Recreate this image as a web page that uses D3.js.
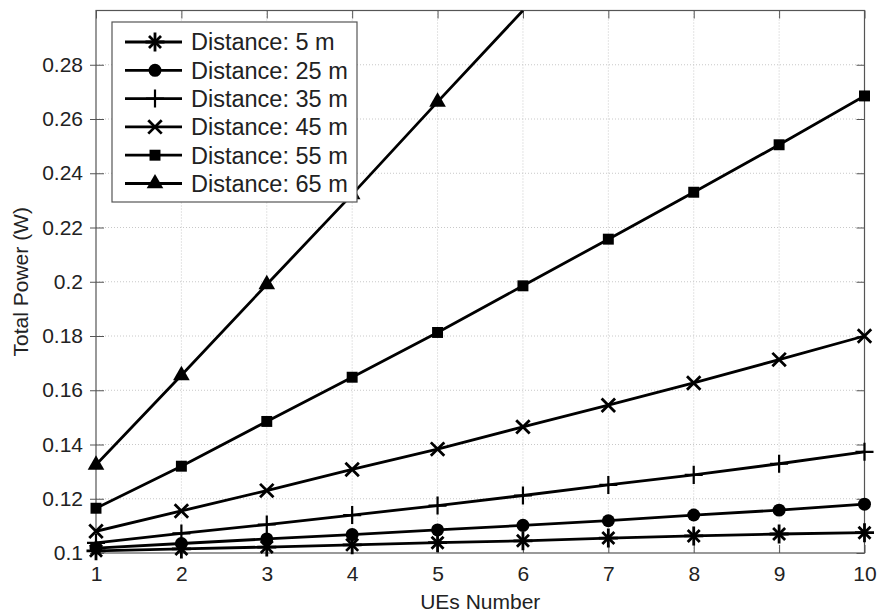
<!DOCTYPE html>
<html>
<head>
<meta charset="utf-8">
<script src="https://cdn.jsdelivr.net/npm/d3@7"></script>
<style>
    body { margin: 0; background: #fff; }
    svg { display: block; font-family: "Liberation Sans", Arial, sans-serif; }
</style>
</head>
<body>
<div id="chart"></div>
<script>
// values
const ues = [1, 2, 3, 4, 5, 6, 7, 8, 9, 10];
const seriesNames = ["Distance: 5 m", "Distance: 25 m", "Distance: 35 m",
    "Distance: 45 m", "Distance: 55 m", "Distance: 65 m"];
const markers = ["star", "circle", "plus", "x", "square", "triangle"];
const power5 = [0.1008, 0.1015, 0.1022, 0.1030, 0.1038, 0.1045, 0.1055, 0.1063, 0.1070, 0.1075];
const power25 = [0.1018, 0.1035, 0.1052, 0.1068, 0.1085, 0.1102, 0.1119, 0.1140, 0.1158, 0.1180];
const power35 = [0.1037, 0.1072, 0.1105, 0.1140, 0.1175, 0.1212, 0.1251, 0.1288, 0.1329, 0.1373];
const power45 = [0.1080, 0.1155, 0.1230, 0.1308, 0.1383, 0.1465, 0.1545, 0.1627, 0.1713, 0.1800];
const power55 = [0.1165, 0.1320, 0.1485, 0.1648, 0.1813, 0.1985, 0.2157, 0.2330, 0.2505, 0.2685];
const power65 = [0.1325, 0.1655, 0.1990, 0.2322, 0.2663, 0.3000];
const allSeries = [power5, power25, power35, power45, power55, power65];
const xTicks = [1, 2, 3, 4, 5, 6, 7, 8, 9, 10];
const yTicks = [0.1, 0.12, 0.14, 0.16, 0.18, 0.2, 0.22, 0.24, 0.26, 0.28];

const width = 878;
const height = 615;
const margin = {top: 10.5, right: 13.5, bottom: 62, left: 96};
const innerW = width - margin.left - margin.right;
const innerH = height - margin.top - margin.bottom;

const x = d3.scaleLinear().domain([1, 10]).range([0, innerW]);
const y = d3.scaleLinear().domain([0.1, 0.3]).range([innerH, 0]);

const svg = d3.select("#chart").append("svg")
    .attr("width", width)
    .attr("height", height);

svg.append("defs").append("clipPath").attr("id", "clip")
    .append("rect").attr("width", innerW).attr("height", innerH);

const g = svg.append("g")
    .attr("transform", "translate(" + margin.left + "," + margin.top + ")");

// dotted grid
g.append("g").selectAll("line").data(xTicks.slice(1, -1)).enter().append("line")
    .attr("x1", d => x(d)).attr("x2", d => x(d))
    .attr("y1", 0).attr("y2", innerH)
    .style("stroke", "#c8c8c8").style("stroke-width", 1).style("stroke-dasharray", "1,2");
g.append("g").selectAll("line").data(yTicks.slice(1)).enter().append("line")
    .attr("x1", 0).attr("x2", innerW)
    .attr("y1", d => y(d)).attr("y2", d => y(d))
    .style("stroke", "#c8c8c8").style("stroke-width", 1).style("stroke-dasharray", "1,2");

// axes with inward ticks on all four sides
const tickLen = 8;
const axisColor = "#555";
const styleAxis = function (sel) {
    sel.select(".domain").remove();
    sel.selectAll(".tick line").style("stroke", axisColor);
    sel.selectAll(".tick text").style("fill", "#222").style("font-size", "21px")
        .style("font-family", "\"Liberation Sans\", Arial, sans-serif");
};

g.append("g").attr("transform", "translate(0," + innerH + ")")
    .call(d3.axisBottom(x).tickValues(xTicks).tickFormat(d3.format("d")).tickSizeInner(-tickLen).tickPadding(13))
    .call(styleAxis);
g.append("g")
    .call(d3.axisTop(x).tickValues(xTicks).tickFormat("").tickSizeInner(-tickLen))
    .call(styleAxis);
g.append("g")
    .call(d3.axisLeft(y).tickValues(yTicks).tickFormat(d => String(+d.toFixed(2))).tickSizeInner(-tickLen).tickPadding(13))
    .call(styleAxis)
    .selectAll(".tick line").attr("x2", -6).attr("x1", tickLen);
g.append("g").attr("transform", "translate(" + innerW + ",0)")
    .call(d3.axisRight(y).tickValues(yTicks).tickFormat("").tickSizeInner(-tickLen))
    .call(styleAxis);

g.append("rect")
    .attr("width", innerW).attr("height", innerH)
    .style("fill", "none").style("stroke", axisColor).style("stroke-width", 1.2);

// marker drawing
function drawMarker(sel, type, size) {
    const s = size;
    if (type === "star") {
        sel.append("path").attr("d", d3.symbol(d3.symbolPlus, s * 10)())
            .style("fill", "none").style("stroke", "#000").style("stroke-width", 2.8);
        sel.append("path").attr("d", d3.symbol(d3.symbolTimes, s * 8)())
            .style("fill", "none").style("stroke", "#000").style("stroke-width", 2.8);
    } else if (type === "circle") {
        sel.append("path").attr("d", d3.symbol(d3.symbolCircle, s * 11)()).style("fill", "#000");
    } else if (type === "plus") {
        sel.append("path").attr("d", d3.symbol(d3.symbolPlus, s * 9)())
            .style("fill", "none").style("stroke", "#000").style("stroke-width", 2.2);
    } else if (type === "x") {
        sel.append("path").attr("d", d3.symbol(d3.symbolTimes, s * 10)())
            .style("fill", "none").style("stroke", "#000").style("stroke-width", 2.8);
    } else if (type === "square") {
        sel.append("path").attr("d", d3.symbol(d3.symbolSquare, s * 10)()).style("fill", "#000");
    } else if (type === "triangle") {
        sel.append("path").attr("d", d3.symbol(d3.symbolTriangle, s * 10)()).style("fill", "#000");
    }
}

const line = d3.line()
    .x((d, i) => x(ues[i]))
    .y(d => y(d));

const plot = g.append("g").attr("clip-path", "url(#clip)");

allSeries.forEach(function (values) {
    plot.append("path")
        .datum(values)
        .attr("d", line)
        .style("fill", "none")
        .style("stroke", "#000")
        .style("stroke-width", 2.8);
});

allSeries.forEach(function (values, k) {
    values.forEach(function (v, i) {
        if (v < 0.2995) {
            const m = g.append("g").attr("transform", "translate(" + x(ues[i]) + "," + y(v) + ")");
            drawMarker(m, markers[k], 12);
        }
    });
});

// axis titles
svg.append("text")
    .attr("x", margin.left + innerW / 2)
    .attr("y", 609)
    .attr("text-anchor", "middle")
    .style("font-size", "21px").style("fill", "#222")
    .text("UEs Number");

svg.append("text")
    .attr("transform", "translate(28," + (margin.top + innerH / 2) + ") rotate(-90)")
    .attr("text-anchor", "middle")
    .style("font-size", "21px").style("fill", "#222")
    .text("Total Power (W)");

// legend
const legend = svg.append("g").attr("transform", "translate(112,22)");
legend.append("rect")
    .attr("width", 245).attr("height", 180)
    .style("fill", "#fff").style("stroke", axisColor).style("stroke-width", 1.2);

seriesNames.forEach(function (name, k) {
    const row = legend.append("g").attr("transform", "translate(0," + (20 + k * 28.3) + ")");
    row.append("line")
        .attr("x1", 13).attr("x2", 70)
        .style("stroke", "#000").style("stroke-width", 2.8);
    drawMarker(row.append("g").attr("transform", "translate(43,0)"), markers[k], 12);
    row.append("text")
        .attr("x", 79).attr("y", 0).attr("dy", "0.36em")
        .style("font-size", "23.5px").style("fill", "#222")
        .text(name);
});
</script>
</body>
</html>
